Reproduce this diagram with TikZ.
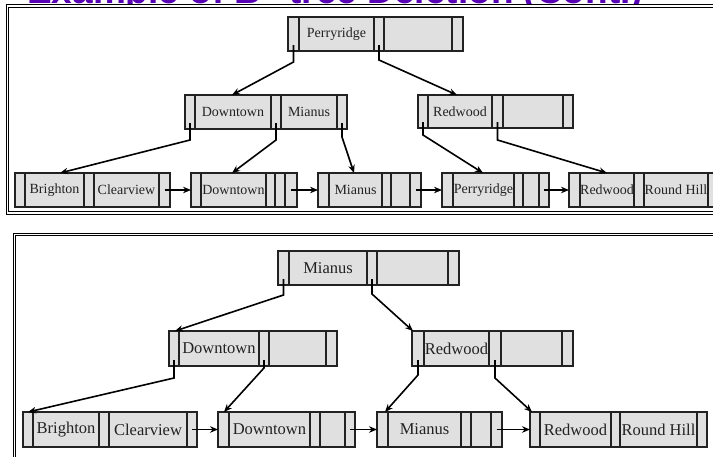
\documentclass[tikz,border=0pt]{standalone}
\usepackage{fontspec}
\setmainfont{Liberation Serif}
\newfontfamily\titlefont{Liberation Sans}
\usetikzlibrary{arrows.meta}
\definecolor{titlepurple}{RGB}{88,0,180}
\definecolor{cellgray}{RGB}{224,224,224}
\definecolor{linegray}{RGB}{34,34,34}
\tikzset{
  cellbox/.style={draw=linegray, line width=1.5pt, fill=cellgray},
  cellline/.style={draw=linegray, line width=1.5pt},
  ptr/.style={draw=black, line width=1.6pt, -{Stealth[length=8pt,width=6.5pt]}},
  keyA/.style={font=\fontsize{14}{16}\selectfont, text=linegray, inner sep=0pt},
  keyB/.style={font=\fontsize{16.5}{18}\selectfont, text=linegray, inner sep=0pt},
  panel/.style={draw=black, line width=0.9pt, double=white, double distance=1.4pt, fill=white},
  titletext/.style={anchor=base west, inner sep=0pt, text=titlepurple, font=\titlefont\bfseries\fontsize{37}{40}\selectfont}
}
% name, ytop, ybot, x0, x1, x2, x3, x4, x5
\newcommand\bpnode[9]{%
  \draw[cellbox] (#4,#2) rectangle (#9,#3);
  \draw[cellline] (#5,#2) -- (#5,#3) (#6,#2) -- (#6,#3) (#7,#2) -- (#7,#3) (#8,#2) -- (#8,#3);
  \coordinate (#1-nw) at (#4,#2);
  \coordinate (#1-w) at (#4,{(#2+#3)/2});
  \coordinate (#1-k1) at ({(#5+#6)/2},{(#2+#3)/2});
  \coordinate (#1-k2) at ({(#7+#8)/2},{(#2+#3)/2});
  \coordinate (#1-p0) at ({(#4+#5)/2},{#3-6});
  \coordinate (#1-p1) at ({(#6+#7)/2},{#3-6});
  \coordinate (#1-p2) at ({(#8+#9)/2},{#3-6});
  \coordinate (#1-m2) at ({(#8+#9)/2},{(#2+#3)/2});
}
\begin{document}
\begin{tikzpicture}[x=1pt, y=-1pt]
\useasboundingbox (0,0) rectangle (713,456);
\clip (0,0) rectangle (713,456);
\fill[white] (0,0) rectangle (713,456);
% title (mostly hidden behind the picture)
\node[titletext] (title) at (27,3.5) {Example of B\textsuperscript{+}-tree Deletion (Cont.)};
\draw[titlepurple, line width=1.5pt] ([yshift=-1.3pt]title.base west) -- ([yshift=-1.3pt]title.base east);
% panels
\draw[panel] (7.5,6) rectangle (725,213);
\draw[panel] (14.3,234.3) rectangle (725,470);

% ===== top panel =====
\bpnode{R}{17}{51}{288}{299}{374}{384}{452}{463}
\bpnode{DM}{95}{129}{185}{195}{271}{281}{337}{347}
\bpnode{RW}{95}{128}{418}{428}{492}{503}{563}{573}
\bpnode{LA}{173}{207}{15}{25}{84}{94}{159}{170}
\bpnode{LB}{173}{207}{191}{201}{266}{275}{285}{297}
\bpnode{LC}{173}{207}{318}{329}{382}{391}{410}{421}
\bpnode{LD}{173}{207}{442}{453}{514}{523}{539}{549}
\bpnode{LE}{173}{207}{569}{580}{634}{644}{708}{719}
\node[keyA] (tR) at (R-k1) {Perryridge};
\node[keyA] (tDM1) at (DM-k1) {Downtown};
\node[keyA] (tDM2) at (DM-k2) {Mianus};
\node[keyA] (tRW) at (RW-k1) {Redwood};
\node[keyA] (tLA1) at (LA-k1) {Brighton};
\node[keyA] (tLA2) at (LA-k2) {Clearview};
\node[keyA] (tLB) at (LB-k1) {Downtown};
\node[keyA] (tLC) at (LC-k1) {Mianus};
\node[keyA] (tLD) at (LD-k1) {Perryridge};
\node[keyA] (tLE1) at (LE-k1) {Redwood};
\node[keyA] (tLE2) at (LE-k2) {Round Hill};
\draw[ptr] (R-p0) -- ++(0,17) -- ([xshift=47pt]DM-nw);
\draw[ptr] (R-p1) -- ++(0,15) -- ([xshift=39pt]RW-nw);
\draw[ptr] (DM-p0) -- ++(0,17) -- ([xshift=45pt]LA-nw);
\draw[ptr] (DM-p1) -- ++(0,17) -- ([xshift=41pt]LB-nw);
\draw[ptr] (DM-p2) -- ++(0,14) -- ([xshift=36pt]LC-nw);
\draw[ptr] (RW-p0) -- ++(0,13) -- ([xshift=41pt]LD-nw);
\draw[ptr] (RW-p1) -- ++(0,18) -- ([xshift=38pt]LE-nw);
\draw[ptr] (LA-m2) -- (LB-w);
\draw[ptr] (LB-m2) -- (LC-w);
\draw[ptr] (LC-m2) -- (LD-w);
\draw[ptr] (LD-m2) -- (LE-w);

% ===== bottom panel =====
\bpnode{RR}{251}{285}{278}{289}{367}{377}{448}{459}
\bpnode{DD}{331}{366}{169}{179}{259}{269}{326}{337}
\bpnode{WW}{331}{366}{412}{424}{489}{501}{562}{573}
\bpnode{MA}{412}{447}{23}{33}{99}{109}{187}{197}
\bpnode{MB}{412}{447}{218}{229}{310}{320}{345}{355}
\bpnode{MC}{412}{447}{377}{388}{461}{471}{491}{502}
\bpnode{MD}{412}{447}{530}{540}{611}{620}{697}{707}
\node[keyB] (tRR) at (RR-k1) {Mianus};
\node[keyB] (tDD) at (DD-k1) {Downtown};
\node[keyB] (tWW) at (WW-k1) {Redwood};
\node[keyB] (tMA1) at (MA-k1) {Brighton};
\node[keyB] (tMA2) at (MA-k2) {Clearview};
\node[keyB] (tMB) at (MB-k1) {Downtown};
\node[keyB] (tMC) at (MC-k1) {Mianus};
\node[keyB] (tMD1) at (MD-k1) {Redwood};
\node[keyB] (tMD2) at (MD-k2) {Round Hill};
\draw[ptr] (RR-p0) -- ++(0,16) -- ([xshift=6pt]DD-nw);
\draw[ptr] (RR-p1) -- ++(0,15) -- ([xshift=1pt]WW-nw);
\draw[ptr] (DD-p0) -- ++(0,18) -- ([xshift=5pt]MA-nw);
\draw[ptr] (DD-p1) -- ++(0,8) -- ([xshift=6pt]MB-nw);
\draw[ptr] (WW-p0) -- ++(0,15) -- ([xshift=8pt]MC-nw);
\draw[ptr] (WW-p1) -- ++(0,18) -- ([xshift=2pt]MD-nw);
\draw[ptr] (MA-m2) -- (MB-w);
\draw[ptr] (MB-m2) -- (MC-w);
\draw[ptr] (MC-m2) -- (MD-w);
\end{tikzpicture}
\end{document}
